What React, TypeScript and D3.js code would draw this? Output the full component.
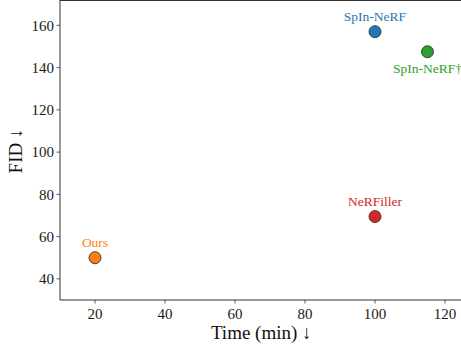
import React from "react";
import { scaleLinear } from "d3";

const methods = ["Ours", "NeRFiller", "SpIn-NeRF", "SpIn-NeRF†"];
const times = [20, 100, 100, 115];
const fids = [50, 69.5, 157, 147.5];
const colors = ["#ff7f0e", "#d62728", "#1f77b4", "#2ca02c"];
const labelBelow = [false, false, false, true];
const xTicks = [20, 40, 60, 80, 100, 120];
const yTicks = [40, 60, 80, 100, 120, 140, 160];

const width = 461;
const height = 347;
const marginLeft = 60;
const marginTop = 0;
const marginBottom = 47;
const plotRight = 462.5;

const font = "'Liberation Serif', 'Times New Roman', serif";

const App = () => {
  const xScale = scaleLinear().domain([10, 125]).range([marginLeft, plotRight]);
  const yScale = scaleLinear()
    .domain([30, 172])
    .range([height - marginBottom, marginTop]);

  const bottom = height - marginBottom;

  return (
    <svg
      width={width}
      height={height}
      style={{ position: "absolute", left: 0, top: 0, background: "#fff" }}
      fontFamily={font}
    >
      {/* spines */}
      <line x1={marginLeft} x2={marginLeft} y1={marginTop} y2={bottom} stroke="#333" strokeWidth={1} />
      <line x1={marginLeft} x2={plotRight} y1={bottom} y2={bottom} stroke="#333" strokeWidth={1} />
      <line x1={marginLeft} x2={plotRight} y1={marginTop + 0.5} y2={marginTop + 0.5} stroke="#333" strokeWidth={1} />

      {/* x axis */}
      {xTicks.map((t) => (
        <g key={"x" + t} transform={`translate(${xScale(t)},${bottom})`}>
          <line y1={0} y2={3.5} stroke="#333" strokeWidth={0.8} />
          <text y={18.5} textAnchor="middle" fontSize={15} fill="#1a1a1a">
            {t}
          </text>
        </g>
      ))}
      <text x={(marginLeft + plotRight) / 2} y={339} textAnchor="middle" fontSize={19} fill="#111">
        Time (min) ↓
      </text>

      {/* y axis */}
      {yTicks.map((t) => (
        <g key={"y" + t} transform={`translate(${marginLeft},${yScale(t)})`}>
          <line x1={-3.5} x2={0} stroke="#333" strokeWidth={0.8} />
          <text x={-6} dy="0.35em" textAnchor="end" fontSize={15} fill="#1a1a1a">
            {t}
          </text>
        </g>
      ))}
      <text
        transform={`translate(22,${(marginTop + bottom) / 2 + 1}) rotate(-90)`}
        textAnchor="middle"
        fontSize={19}
        fill="#111"
      >
        FID ↓
      </text>

      {/* points */}
      {methods.map((m, i) => {
        const cx = xScale(times[i]);
        const cy = yScale(fids[i]);
        return (
          <g key={m}>
            <circle cx={cx} cy={cy} r={6} fill={colors[i]} stroke="#333" strokeWidth={0.9} />
            <text
              x={cx}
              y={labelBelow[i] ? cy + 21.5 : cy - 10.5}
              textAnchor="middle"
              fontSize={13.5}
              fill={colors[i]}
            >
              {m}
            </text>
          </g>
        );
      })}
    </svg>
  );
};

export default App;
